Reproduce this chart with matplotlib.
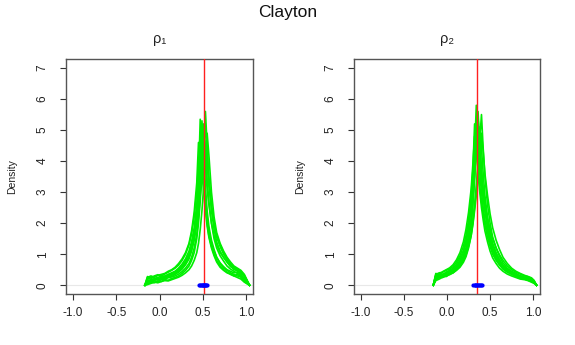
import matplotlib
matplotlib.use("Agg")
import matplotlib.pyplot as plt

plt.rcParams['font.family'] = ['Liberation Sans', 'DejaVu Sans']

# posterior density curves for rho_1
x_rho1 = [-0.17, -0.14, -0.10, -0.06, -0.02, 0.02, 0.06, 0.10, 0.14, 0.18, 0.22, 0.26,
          0.30, 0.34, 0.37, 0.40, 0.43, 0.45, 0.47, 0.49, 0.51, 0.53, 0.55, 0.57,
          0.60, 0.63, 0.66, 0.70, 0.74, 0.78, 0.82, 0.86, 0.90, 0.94, 0.98, 1.04]
dens_rho1 = [
    [0.0, 0.05, 0.1, 0.08, 0.14, 0.12, 0.18, 0.16, 0.22, 0.25, 0.3, 0.38, 0.48, 0.62, 0.8, 1.05, 1.5, 2.0,
     2.7, 3.5, 4.6, 5.6, 4.5, 3.4, 2.4, 1.8, 1.4, 1.1, 0.9, 0.75, 0.6, 0.55, 0.45, 0.4, 0.3, 0.0],
    [0.0, 0.22, 0.2, 0.28, 0.25, 0.3, 0.28, 0.35, 0.4, 0.45, 0.55, 0.68, 0.85, 1.1, 1.4, 1.85, 2.6, 3.4,
     5.35, 4.3, 3.4, 2.6, 2.0, 1.6, 1.25, 1.0, 0.8, 0.62, 0.5, 0.42, 0.35, 0.3, 0.35, 0.28, 0.15, 0.0],
    [0.0, 0.12, 0.18, 0.15, 0.22, 0.2, 0.26, 0.3, 0.36, 0.42, 0.5, 0.6, 0.75, 0.95, 1.25, 1.65, 2.3, 3.0,
     3.9, 5.0, 4.6, 3.8, 3.1, 2.6, 2.0, 1.6, 1.3, 1.05, 0.9, 0.75, 0.62, 0.5, 0.48, 0.4, 0.3, 0.0],
    [0.0, 0.15, 0.12, 0.2, 0.18, 0.24, 0.22, 0.28, 0.32, 0.38, 0.46, 0.56, 0.7, 0.9, 1.15, 1.5, 2.1, 2.8,
     3.6, 4.5, 5.2, 4.4, 3.4, 2.7, 2.0, 1.5, 1.2, 0.95, 0.78, 0.62, 0.52, 0.45, 0.38, 0.32, 0.2, 0.0],
    [0.0, 0.25, 0.3, 0.26, 0.32, 0.35, 0.38, 0.45, 0.5, 0.58, 0.7, 0.85, 1.05, 1.35, 1.75, 2.35, 3.3, 4.6,
     4.2, 3.6, 3.0, 2.4, 1.9, 1.55, 1.2, 0.95, 0.75, 0.58, 0.48, 0.4, 0.36, 0.3, 0.25, 0.2, 0.1, 0.0],
    [0.0, 0.02, 0.06, 0.1, 0.08, 0.12, 0.15, 0.14, 0.18, 0.22, 0.26, 0.32, 0.4, 0.5, 0.62, 0.8, 1.05, 1.35,
     1.8, 2.4, 3.2, 4.1, 4.9, 4.2, 3.0, 2.2, 1.7, 1.35, 1.1, 0.9, 0.75, 0.62, 0.55, 0.48, 0.35, 0.0],
    [0.0, 0.1, 0.15, 0.2, 0.18, 0.22, 0.25, 0.3, 0.28, 0.35, 0.42, 0.52, 0.66, 0.85, 1.1, 1.45, 1.95, 2.5,
     3.2, 4.0, 4.8, 4.5, 3.9, 3.2, 2.5, 2.0, 1.6, 1.3, 1.05, 0.85, 0.7, 0.58, 0.5, 0.42, 0.3, 0.0],
    [0.0, 0.18, 0.14, 0.22, 0.2, 0.26, 0.3, 0.34, 0.38, 0.44, 0.52, 0.62, 0.78, 1.0, 1.3, 1.7, 2.4, 3.2,
     4.2, 5.3, 4.3, 3.2, 2.4, 1.9, 1.45, 1.15, 0.9, 0.7, 0.55, 0.48, 0.4, 0.35, 0.3, 0.26, 0.12, 0.0],
    [0.0, 0.28, 0.24, 0.3, 0.34, 0.3, 0.36, 0.42, 0.48, 0.55, 0.65, 0.8, 1.0, 1.3, 1.65, 2.2, 3.0, 3.9,
     4.9, 4.3, 3.5, 2.8, 2.2, 1.75, 1.35, 1.1, 0.9, 0.72, 0.6, 0.5, 0.45, 0.4, 0.42, 0.35, 0.2, 0.0],
    [0.0, 0.06, 0.1, 0.14, 0.12, 0.18, 0.2, 0.24, 0.27, 0.3, 0.36, 0.44, 0.55, 0.7, 0.9, 1.2, 1.65, 2.2,
     2.9, 3.7, 4.5, 5.1, 4.3, 3.5, 2.6, 2.0, 1.55, 1.25, 1.0, 0.82, 0.68, 0.58, 0.52, 0.45, 0.28, 0.0],
]
true_rho1 = 0.51
means_rho1 = [0.46, 0.47, 0.48, 0.49, 0.50, 0.50, 0.51, 0.52, 0.53, 0.54, 0.55]

# posterior density curves for rho_2
x_rho2 = [-0.16, -0.13, -0.09, -0.05, -0.01, 0.03, 0.07, 0.11, 0.15, 0.19, 0.22, 0.25,
          0.28, 0.30, 0.32, 0.34, 0.36, 0.38, 0.40, 0.42, 0.44, 0.47, 0.50, 0.53,
          0.57, 0.61, 0.65, 0.70, 0.75, 0.80, 0.85, 0.90, 0.94, 0.98, 1.01, 1.04]
dens_rho2 = [
    [0.0, 0.3, 0.36, 0.3, 0.42, 0.45, 0.5, 0.62, 0.8, 1.05, 1.35, 1.8, 2.5, 3.2, 4.3, 5.8, 4.8, 4.0,
     3.3, 2.8, 2.4, 1.9, 1.5, 1.2, 0.95, 0.75, 0.6, 0.5, 0.4, 0.32, 0.28, 0.22, 0.25, 0.15, 0.1, 0.0],
    [0.0, 0.18, 0.25, 0.3, 0.28, 0.36, 0.4, 0.5, 0.62, 0.8, 1.0, 1.3, 1.7, 2.1, 2.6, 3.2, 3.9, 4.7,
     5.5, 4.4, 3.5, 2.6, 2.0, 1.55, 1.2, 0.92, 0.72, 0.55, 0.45, 0.38, 0.3, 0.25, 0.22, 0.18, 0.12, 0.0],
    [0.0, 0.35, 0.4, 0.42, 0.48, 0.52, 0.6, 0.75, 0.95, 1.25, 1.6, 2.1, 2.9, 3.7, 5.2, 4.5, 3.8, 3.2,
     2.7, 2.3, 1.95, 1.55, 1.25, 1.0, 0.8, 0.65, 0.52, 0.42, 0.35, 0.28, 0.22, 0.2, 0.16, 0.12, 0.08, 0.0],
    [0.0, 0.25, 0.3, 0.36, 0.34, 0.4, 0.48, 0.56, 0.7, 0.9, 1.15, 1.5, 2.0, 2.6, 3.4, 4.4, 5.4, 4.6,
     3.8, 3.1, 2.6, 2.1, 1.65, 1.3, 1.02, 0.8, 0.62, 0.5, 0.4, 0.34, 0.3, 0.25, 0.2, 0.16, 0.1, 0.0],
    [0.0, 0.2, 0.28, 0.25, 0.32, 0.38, 0.42, 0.52, 0.66, 0.85, 1.1, 1.45, 2.0, 2.6, 3.5, 5.0, 4.6, 4.0,
     3.5, 3.0, 2.6, 2.15, 1.8, 1.5, 1.2, 0.98, 0.8, 0.62, 0.5, 0.42, 0.36, 0.3, 0.28, 0.22, 0.14, 0.0],
    [0.0, 0.15, 0.2, 0.26, 0.3, 0.34, 0.4, 0.48, 0.58, 0.74, 0.92, 1.2, 1.6, 2.0, 2.5, 3.1, 3.9, 5.1,
     4.4, 3.6, 2.9, 2.2, 1.7, 1.35, 1.05, 0.82, 0.65, 0.52, 0.42, 0.35, 0.3, 0.26, 0.22, 0.2, 0.12, 0.0],
    [0.0, 0.38, 0.34, 0.44, 0.5, 0.56, 0.66, 0.82, 1.05, 1.4, 1.8, 2.35, 3.1, 3.9, 4.8, 4.3, 3.6, 3.0,
     2.5, 2.1, 1.75, 1.4, 1.1, 0.88, 0.7, 0.55, 0.45, 0.36, 0.3, 0.25, 0.2, 0.18, 0.15, 0.1, 0.06, 0.0],
    [0.0, 0.28, 0.32, 0.3, 0.38, 0.44, 0.5, 0.6, 0.75, 0.95, 1.2, 1.6, 2.15, 2.8, 3.6, 4.6, 5.6, 4.5,
     3.6, 2.9, 2.4, 1.85, 1.45, 1.15, 0.9, 0.7, 0.56, 0.45, 0.38, 0.3, 0.26, 0.24, 0.26, 0.2, 0.12, 0.0],
    [0.0, 0.22, 0.26, 0.32, 0.3, 0.38, 0.44, 0.52, 0.64, 0.8, 0.98, 1.25, 1.6, 1.95, 2.4, 2.9, 3.5, 4.2,
     4.9, 4.3, 3.6, 2.9, 2.3, 1.85, 1.45, 1.15, 0.9, 0.7, 0.55, 0.45, 0.38, 0.32, 0.28, 0.24, 0.16, 0.0],
    [0.0, 0.32, 0.38, 0.35, 0.42, 0.48, 0.55, 0.68, 0.88, 1.12, 1.45, 1.9, 2.6, 3.3, 4.2, 5.3, 4.4, 3.6,
     3.0, 2.5, 2.1, 1.7, 1.35, 1.08, 0.85, 0.68, 0.54, 0.44, 0.36, 0.3, 0.26, 0.22, 0.2, 0.16, 0.1, 0.0],
]
true_rho2 = 0.35
means_rho2 = [0.30, 0.32, 0.33, 0.34, 0.35, 0.36, 0.37, 0.38, 0.40, 0.41]

x_ticks = [-1.0, -0.5, 0.0, 0.5, 1.0]
x_labels = ['-1.0', '-0.5', '0.0', '0.5', '1.0']
y_ticks = [0, 1, 2, 3, 4, 5, 6, 7]

fig = plt.figure(figsize=(5.75, 3.45), dpi=100)
ax1 = fig.add_axes([0.1150, 0.148, 0.3250, 0.680])
ax2 = fig.add_axes([0.6157, 0.148, 0.3235, 0.680])

panels = [
    (ax1, x_rho1, dens_rho1, true_rho1, means_rho1, 'ρ₁'),
    (ax2, x_rho2, dens_rho2, true_rho2, means_rho2, 'ρ₂'),
]

for ax, xs, curves, truth, means, name in panels:
    ax.axhline(0, color='#e8e8e8', lw=0.8, zorder=1)
    for ys in curves:
        ax.plot(xs, ys, color='#00ee00', lw=1.2, zorder=2)
    ax.axvline(truth, color='#ff2020', lw=1.0, zorder=3)
    ax.plot(means, [0] * len(means), 'o', color='#0000ff', ms=3, mec='none', zorder=4)

    ax.set_xlim(-1.08, 1.08)
    ax.set_ylim(-0.28, 7.28)
    ax.set_xticks(x_ticks)
    ax.set_xticklabels(x_labels)
    ax.set_yticks(y_ticks)
    ax.tick_params(axis='both', direction='out', length=4.5, width=0.8,
                   color='#333333', labelsize=8.5, labelcolor='#222222')
    ax.tick_params(axis='x', pad=5)
    ax.tick_params(axis='y', pad=8)
    for lab in ax.get_yticklabels():
        lab.set_rotation(90)
        lab.set_va('center')
    for sp in ax.spines.values():
        sp.set_color('#555555')
        sp.set_linewidth(1.0)
    ax.set_ylabel('Density', fontsize=7.5, labelpad=14, color='#222222')
    ax.set_title(name, fontsize=10.5, pad=12, color='#222222')

fig.suptitle('Clayton', fontsize=12.5, y=0.985, x=0.5, color='#111111')

fig.savefig('out.png', dpi=100)
